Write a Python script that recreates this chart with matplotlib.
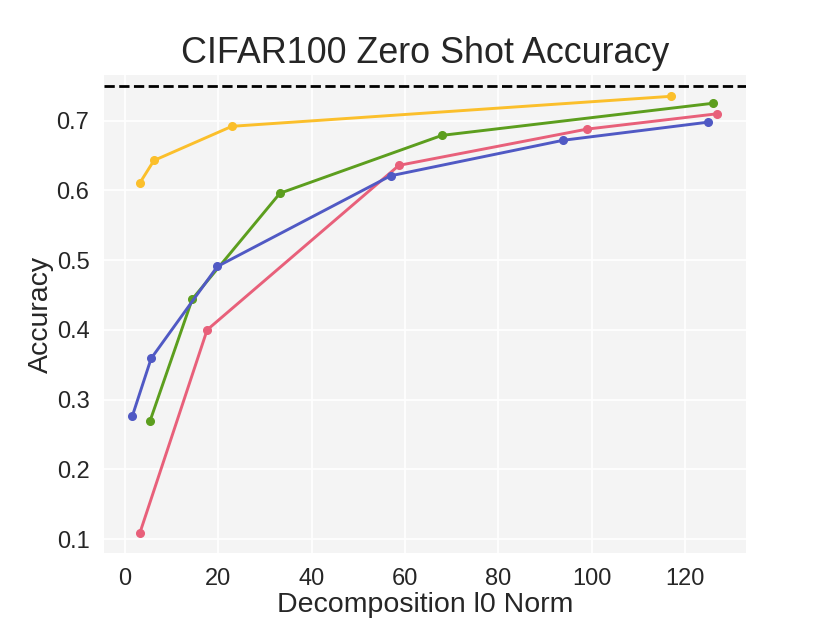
import matplotlib
matplotlib.use("Agg")
import matplotlib.pyplot as plt

yellow_x = [3.2, 6.2, 22.9, 116.9]
yellow_y = [0.611, 0.643, 0.692, 0.735]

green_x = [5.4, 14.4, 33.2, 67.9, 125.9]
green_y = [0.270, 0.444, 0.596, 0.679, 0.725]

blue_x = [1.6, 5.6, 19.8, 56.9, 93.9, 125.0]
blue_y = [0.277, 0.359, 0.491, 0.621, 0.672, 0.698]

red_x = [3.2, 17.6, 58.7, 99.0, 126.9]
red_y = [0.109, 0.400, 0.636, 0.688, 0.710]

baseline = 0.75

series = [
    (yellow_x, yellow_y, "#fbbf2b"),
    (green_x, green_y, "#5c9e1e"),
    (red_x, red_y, "#e8607a"),
    (blue_x, blue_y, "#5059c4"),
]

plt.rcParams["font.family"] = ["Liberation Sans", "DejaVu Sans"]
plt.rcParams["text.color"] = "#262626"
plt.rcParams["axes.labelcolor"] = "#262626"
plt.rcParams["xtick.color"] = "#262626"
plt.rcParams["ytick.color"] = "#262626"

fig = plt.figure(figsize=(8.3, 6.23), dpi=100)
ax = fig.add_axes([0.1253, 0.1124, 0.7737, 0.7672])
ax.set_facecolor("#f4f4f4")
for s in ax.spines.values():
    s.set_visible(False)
ax.grid(True, color="white", linewidth=1.3)
ax.set_axisbelow(True)
ax.tick_params(length=0, labelsize=17, pad=10.5)

for xs, ys, c in series:
    ax.plot(xs, ys, color=c, linewidth=2.1, marker="o", markersize=5.5)

ax.axhline(baseline, color="black", linestyle="--", linewidth=2.0)

ax.set_yticks([0.1, 0.2, 0.3, 0.4, 0.5, 0.6, 0.7])
ax.set_xticks([0, 20, 40, 60, 80, 100, 120])
ax.set_xlim(-4.5, 133.1)
ax.set_ylim(0.08, 0.7656)

ax.set_title("CIFAR100 Zero Shot Accuracy", fontsize=25.8, pad=8.5)
ax.set_xlabel("Decomposition l0 Norm", fontsize=20.5, labelpad=2)
ax.set_ylabel("Accuracy", fontsize=20.5, labelpad=2)

fig.savefig("out.png", dpi=100)
